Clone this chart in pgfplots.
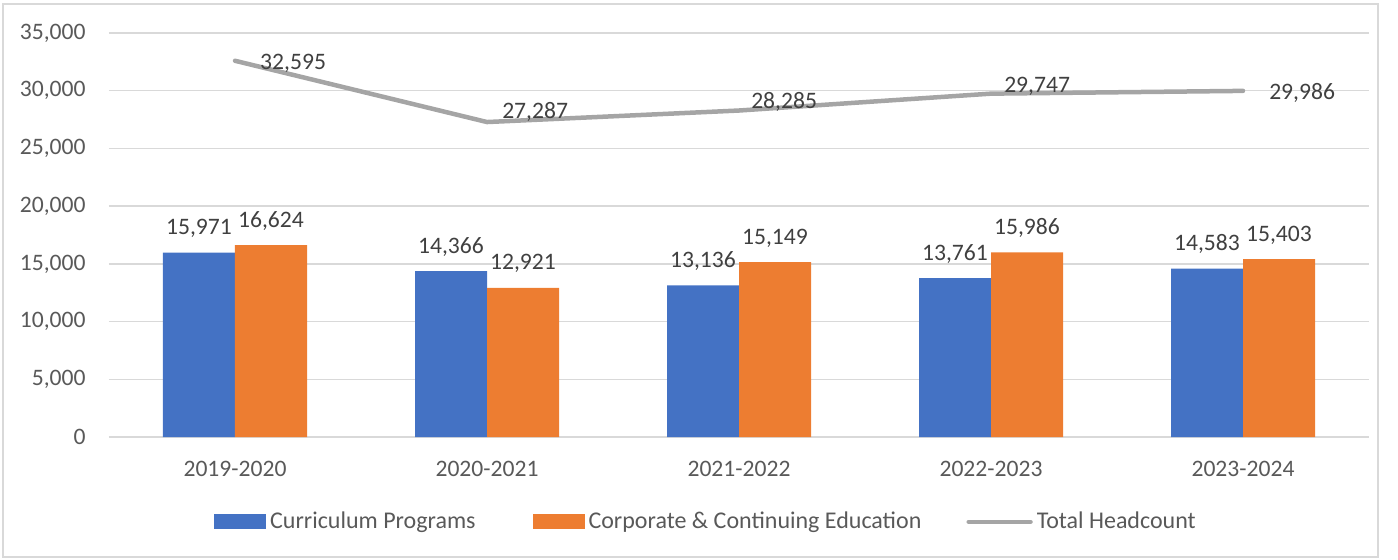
\documentclass[border=0pt]{standalone}
\usepackage{fontspec}
\setmainfont{Carlito}
\usepackage{pgfplots}
\usepackage{pgfplotstable}
\pgfplotsset{compat=1.18}

\definecolor{cblue}{HTML}{4472C4}
\definecolor{corange}{HTML}{ED7D31}
\definecolor{cgray}{HTML}{A5A5A5}
\definecolor{gridc}{HTML}{D9D9D9}
\definecolor{ticktxt}{HTML}{595959}
\definecolor{labtxt}{HTML}{404040}

% headcount by year; dx/dy place the total labels
\pgfplotstableread{
x cur corp total dx dy
0 15971 16624 32595 11.5 -1.5
1 14366 12921 27287 6.5 5
2 13136 15149 28285 5 4.5
3 13761 15986 29747 5.5 3.5
4 14583 15403 29986 12 -1
}\datatable

\begin{document}
\fontsize{11.8}{14}\selectfont
\begin{tikzpicture}
\path (-54.5pt,-61pt) rectangle (644.5pt,218.5pt);
\draw[gridc, line width=0.6pt] (-53pt,-60pt) rectangle (634.5pt,216.5pt);
\begin{axis}[
    scale only axis,
    width=630pt, height=202pt,
    xmin=-0.5, xmax=4.5,
    ymin=0, ymax=35000,
    xtick=data,
    xticklabels={2019-2020,2020-2021,2021-2022,2022-2023,2023-2024},
    ytick={0,5000,10000,15000,20000,25000,30000,35000},
    scaled y ticks=false,
    /pgf/number format/.cd, fixed, precision=0, 1000 sep={,}, assume math mode=true,
    /pgfplots/.cd,
    axis line style={draw=none},
    major tick length=0pt,
    ymajorgrids,
    grid style={gridc, line width=0.75pt},
    tick label style={font=\fontsize{11.8}{14}\selectfont, text=ticktxt},
    yticklabel style={inner sep=0pt, anchor=east, xshift=-11.5pt},
    xticklabel style={inner sep=0pt, anchor=base, yshift=-19.5pt},
    nodes near coords style={font=\fontsize{11.8}{14}\selectfont, text=labtxt},
    legend columns=3,
    legend style={
        draw=none, fill=none,
        at={(0.473,-0.21)}, anchor=center,
        font=\fontsize{12}{14}\selectfont, text=ticktxt,
        nodes={inner sep=0pt},
        /tikz/column 1/.style={column sep=2pt},
        /tikz/column 2/.style={column sep=28.5pt},
        /tikz/column 3/.style={column sep=2pt},
        /tikz/column 4/.style={column sep=22.5pt},
        /tikz/column 5/.style={column sep=2pt},
    },
]
\addplot[ybar, bar width=36pt, bar shift=-18pt, fill=cblue, draw=none,
    nodes near coords,
    every node near coord/.append style={anchor=base, inner sep=0pt,
        xshift=-18pt, yshift=9pt},
    legend image code/.code={\fill[cblue] (0pt,-3.75pt) rectangle (26pt,3.75pt);}]
    table[x=x, y=cur] {\datatable};
\addlegendentry{Curriculum Programs}

\addplot[ybar, bar width=36pt, bar shift=18pt, fill=corange, draw=none,
    nodes near coords,
    every node near coord/.append style={anchor=base, inner sep=0pt,
        xshift=18pt, yshift=9pt},
    legend image code/.code={\fill[corange] (0pt,-3.75pt) rectangle (26pt,3.75pt);}]
    table[x=x, y=corp] {\datatable};
\addlegendentry{Corporate \& Continuing Education}

\addplot[sharp plot, mark=none, color=cgray, line width=2.25pt,
    line cap=round, line join=round,
    nodes near coords,
    visualization depends on={\thisrow{dx} \as \dx},
    visualization depends on={\thisrow{dy} \as \dy},
    every node near coord/.append style={anchor=west, inner sep=0pt,
        xshift=\dx pt, yshift=\dy pt},
    legend image code/.code={\draw[cgray, line width=2.25pt, line cap=round]
        (1.1pt,0pt) -- (32pt,0pt);}]
    table[x=x, y=total] {\datatable};
\addlegendentry{Total Headcount}
\end{axis}
\end{tikzpicture}
\end{document}
